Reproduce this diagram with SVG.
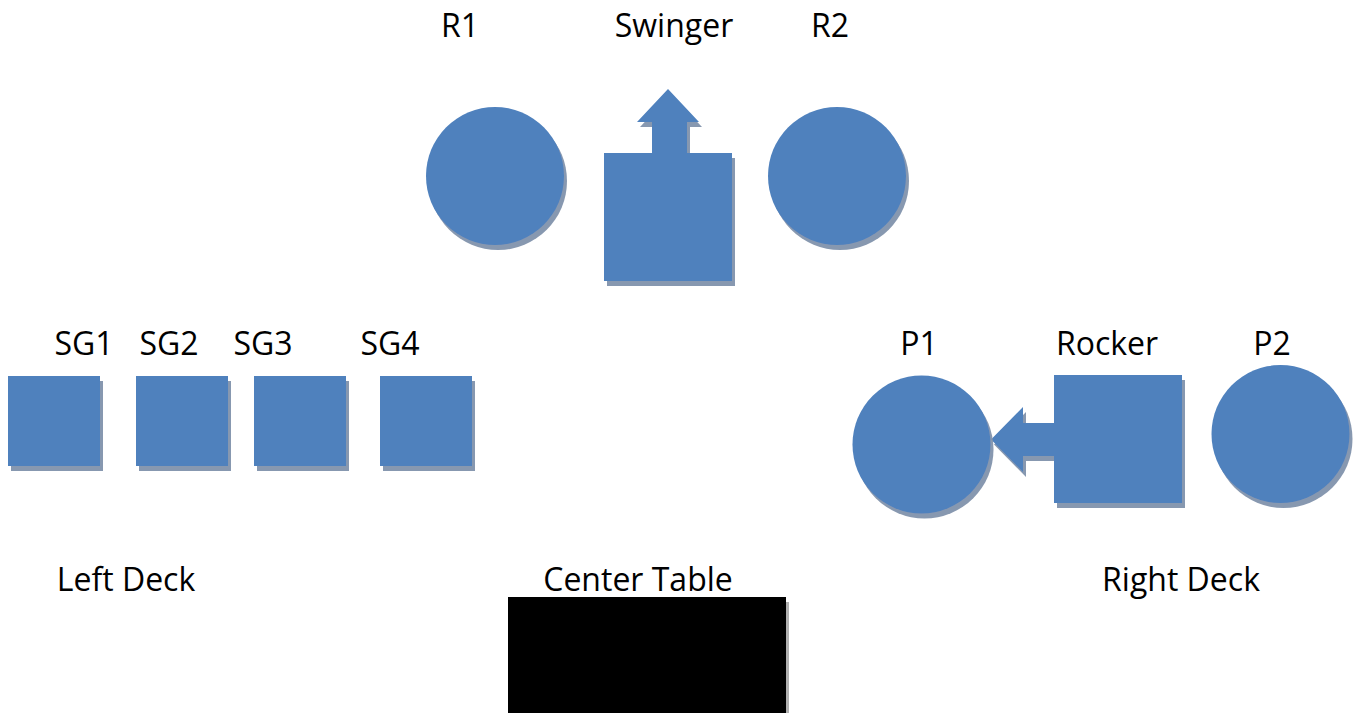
<svg xmlns="http://www.w3.org/2000/svg" width="1356" height="713" viewBox="0 0 1356 713">
<style>
.s{fill:#4f81bd;filter:url(#sh)}
.t{font-family:"Open Sans","Liberation Sans",sans-serif;font-size:32px;fill:#000;text-anchor:middle}
</style>
<defs>
<filter id="sh" x="-10%" y="-10%" width="125%" height="125%">
<feDropShadow dx="3" dy="5" stdDeviation="0.7" flood-color="#8193ab" flood-opacity="0.95"/>
</filter>
<filter id="shg" x="-10%" y="-10%" width="125%" height="125%">
<feDropShadow dx="3" dy="5" stdDeviation="0.6" flood-color="#b0b0b0" flood-opacity="1"/>
</filter>
</defs>
<rect width="1356" height="713" fill="#fff"/>
<g id="connectors">
<polygon class="s" points="652,154 652,122 637,122 668,89 699,122 687,122 687,154"/>
<polygon class="s" points="1055,423 1023,423 1023,407 991,439.5 1023,472 1023,456 1055,456"/>
</g>
<g id="R1"><circle class="s" cx="495" cy="176" r="69"/><text class="t" x="460" y="37">R1</text></g>
<g id="Swinger"><rect class="s" x="604" y="153" width="128" height="128"/><text class="t" x="674" y="37">Swinger</text></g>
<g id="R2"><circle class="s" cx="837" cy="176" r="69"/><text class="t" x="830" y="37">R2</text></g>
<g id="SG1"><rect class="s" x="8" y="376" width="92" height="90"/><text class="t" x="84" y="355">SG1</text></g>
<g id="SG2"><rect class="s" x="136" y="376" width="92" height="90"/><text class="t" x="169" y="355">SG2</text></g>
<g id="SG3"><rect class="s" x="254" y="376" width="92" height="90"/><text class="t" x="263" y="355">SG3</text></g>
<g id="SG4"><rect class="s" x="380" y="376" width="92" height="90"/><text class="t" x="390" y="355">SG4</text></g>
<g id="P1"><circle class="s" cx="921.5" cy="444.5" r="69"/><text class="t" x="919" y="355">P1</text></g>
<g id="Rocker"><rect class="s" x="1054" y="375" width="128" height="128"/><text class="t" x="1107" y="355">Rocker</text></g>
<g id="P2"><circle class="s" cx="1280.5" cy="434" r="69"/><text class="t" x="1272" y="355">P2</text></g>
<g id="LeftDeck"><text class="t" x="126" y="591">Left Deck</text></g>
<g id="RightDeck"><text class="t" x="1181" y="591">Right Deck</text></g>
<g id="CenterTable"><rect x="508" y="597" width="278" height="130" fill="#000" filter="url(#shg)"/><text class="t" x="638" y="591">Center Table</text></g>
</svg>
